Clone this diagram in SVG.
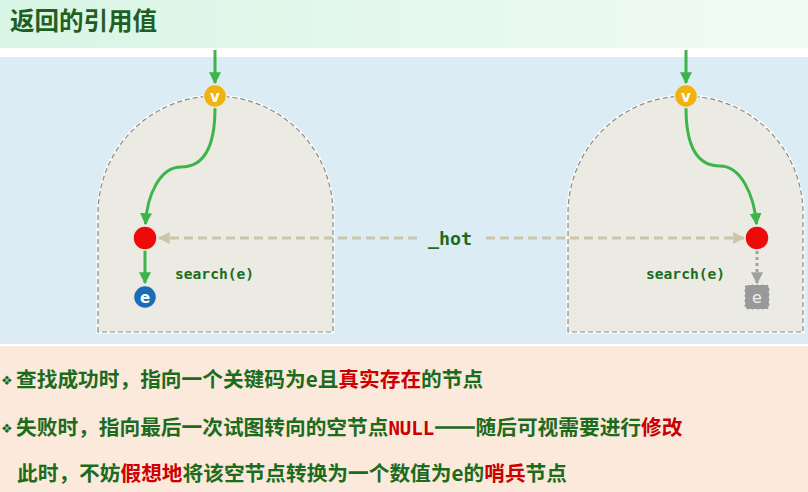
<svg xmlns="http://www.w3.org/2000/svg" width="808" height="492" viewBox="0 0 808 492">
<defs>
<linearGradient id="tg" x1="0" y1="0" x2="1" y2="0">
<stop offset="0" stop-color="#d8f5e5"/>
<stop offset="1" stop-color="#f1fbf5"/>
</linearGradient>
<marker id="ag" viewBox="0 0 10 10" refX="9" refY="5" markerWidth="4" markerHeight="4" orient="auto" markerUnits="strokeWidth">
<path d="M0,0 L10,5 L0,10 z" fill="#3db54a"/>
</marker>
<marker id="ab" viewBox="0 0 10 10" refX="9" refY="5" markerWidth="4" markerHeight="4" orient="auto" markerUnits="strokeWidth">
<path d="M0,0 L10,5 L0,10 z" fill="#cbc6ab"/>
</marker>
<marker id="ay" viewBox="0 0 10 10" refX="9" refY="5" markerWidth="4" markerHeight="4" orient="auto" markerUnits="strokeWidth">
<path d="M0,0 L10,5 L0,10 z" fill="#a0a0a0"/>
</marker>
</defs>
<style>
.shape{fill:#ebebe4;stroke:#8a8a8a;stroke-width:1.2;stroke-dasharray:5 3}
.halo{fill:none;stroke:#ffffff;stroke-width:3}
.g{fill:none;stroke:#3db54a;stroke-width:3;marker-end:url(#ag)}
.hot{fill:none;stroke:#cbc6ab;stroke-width:3;stroke-dasharray:9 5;marker-end:url(#ab)}
.dot{fill:none;stroke:#a0a0a0;stroke-width:3;stroke-dasharray:3 3;marker-end:url(#ay)}
.node{stroke:#e8e8e8;stroke-width:1.5}
.lbl{font-family:"DejaVu Sans",sans-serif;font-weight:bold;font-size:15px;fill:#ffffff;text-anchor:middle}
.mono{font-family:"DejaVu Sans Mono","Liberation Mono",monospace;font-weight:bold;fill:#1d6b1d}
.txt{font-family:"Noto Sans CJK SC","Noto Sans",sans-serif;font-weight:bold;font-size:20.7px;fill:#1d6b1d}
.red{fill:#cc0000}
.bul{font-family:"DejaVu Sans",sans-serif;font-size:13px;fill:#1d6b1d}
.fw{font-feature-settings:"fwid" 1;stroke:#1d6b1d;stroke-width:1.4}
</style>
<rect x="0" y="0" width="808" height="48" fill="url(#tg)"/>
<rect x="0" y="48" width="808" height="9" fill="#ffffff"/>
<rect x="0" y="57" width="808" height="287" fill="#dbecf4"/>
<rect x="0" y="344" width="808" height="2" fill="#ffffff"/>
<rect x="0" y="346" width="808" height="146" fill="#fbe9dc"/>
<text x="10" y="30" font-family="'Noto Sans CJK SC',sans-serif" font-weight="bold" font-size="24.5" fill="#1f5f1f">返回的引用值</text>

<g id="subtree-left">
<path class="halo" d="M98,332 L98,213.5 A117.5,117.5 0 0 1 333,213.5 L333,332 Z"/>
<path class="shape" d="M98,332 L98,213.5 A117.5,117.5 0 0 1 333,213.5 L333,332 Z"/>
</g>
<g id="subtree-right">
<path class="halo" d="M568,332 L568,213.5 A117.5,117.5 0 0 1 803,213.5 L803,332 Z"/>
<path class="shape" d="M568,332 L568,213.5 A117.5,117.5 0 0 1 803,213.5 L803,332 Z"/>
</g>

<g id="connectors">
<path class="g" d="M215,50 L215,83"/>
<path class="g" d="M215,108 C215,145 205,167 181,167 C160,167 147,195 145.5,224"/>
<path class="g" d="M145,250 L145,283"/>
<path class="g" d="M686,50 L686,83"/>
<path class="g" d="M686,108 C686,145 696,166 720,166 C741,166 754,195 756.5,224"/>
<path class="dot" d="M757,251 L757,283"/>
<path class="hot" d="M417,238 L159,238"/>
<path class="hot" d="M486,238 L744,238"/>
</g>

<g id="v-left"><circle class="node" cx="215" cy="96" r="11.5" fill="#efb20e"/><text class="lbl" x="215" y="101.5">v</text></g>
<g id="hot-left"><circle class="node" cx="145" cy="238" r="12" fill="#ef0a0a"/></g>
<g id="e-left"><circle class="node" cx="145" cy="297" r="11.5" fill="#1a6db5"/><text class="lbl" x="145" y="302.5">e</text></g>
<g id="v-right"><circle class="node" cx="686" cy="96" r="11.5" fill="#efb20e"/><text class="lbl" x="686" y="101.5">v</text></g>
<g id="hot-right"><circle class="node" cx="757" cy="238" r="12" fill="#ef0a0a"/></g>
<g id="e-right"><rect x="744.5" y="284.5" width="25" height="25" rx="4" fill="#999999" stroke="#f4f4f4" stroke-width="1.2" stroke-dasharray="3 2"/><text x="757" y="302.5" font-family="'DejaVu Sans',sans-serif" font-size="16" fill="#eeeeee" text-anchor="middle">e</text></g>

<g id="labels">
<text class="mono" x="175" y="279" font-size="14.6">search(e)</text>
<text class="mono" x="646" y="279" font-size="14.6">search(e)</text>
<text class="mono" x="428" y="245" font-size="18.3">_hot</text>
</g>

<g id="bullets">
<text class="bul" x="1" y="385">❖</text>
<text class="bul" x="1" y="433">❖</text>
<text class="txt" x="16" y="387">查找成功时，指向一个关键码为e且<tspan class="red">真实存在</tspan>的节点</text>
<text class="txt" x="16" y="435">失败时，指向最后一次试图转向的空节点<tspan class="red" font-family="'DejaVu Sans Mono','Liberation Mono',monospace" font-size="19">NULL</tspan><tspan class="fw">——</tspan>随后可视需要进行<tspan class="red">修改</tspan></text>
<text class="txt" x="17" y="481">此时，不妨<tspan class="red">假想地</tspan>将该空节点转换为一个数值为e的<tspan class="red">哨兵</tspan>节点</text>
</g>
</svg>
